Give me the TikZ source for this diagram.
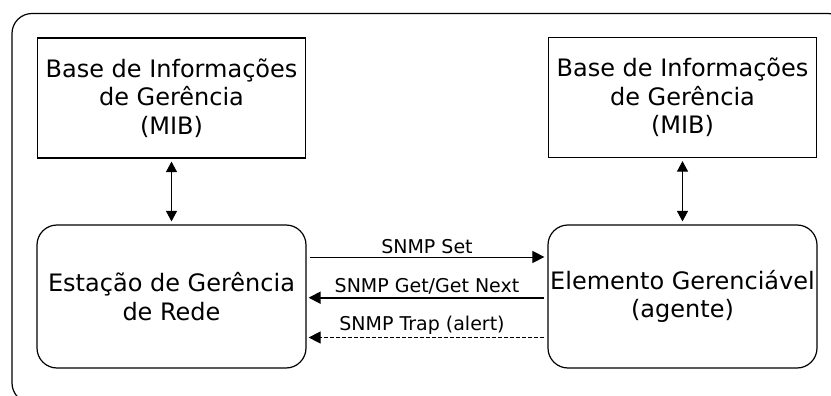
\documentclass[tikz,border=0pt]{standalone}
\usepackage{fontspec}
\setmainfont{DejaVu Sans}
\usetikzlibrary{arrows.meta}

\begin{document}
\begin{tikzpicture}[x=1pt,y=-1pt,
    >={Triangle[length=12pt,width=12pt]},
    mib/.style={rectangle, draw, line width=1.2pt, minimum width=268pt, minimum height=120pt,
      inner xsep=1pt, align=center, font=\fontsize{24}{28.5}\selectfont},
    ent/.style={rectangle, rounded corners=20pt, draw, line width=1.2pt, minimum width=269pt,
      minimum height=143pt, inner xsep=1pt, align=center, font=\fontsize{24}{28.5}\selectfont},
    msg/.style={midway, above, inner sep=2.5pt, font=\fontsize{19}{22}\selectfont}]
  \useasboundingbox (0,0) rectangle (831,396);
  \clip (0,0) rectangle (831,396);
  \draw[line width=1.2pt, rounded corners=20pt] (12,13.5) rectangle (848,403);

  \path (171.5,98) node[mib](mibL){Base de Informações\\de Gerência\\(MIB)}
        (682.5,97.5) node[mib](mibR){Base de Informações\\de Gerência\\(MIB)}
        (171.5,296.5) node[ent](nms){Estação de Gerência\\de Rede}
        (682.5,296.5) node[ent](agent){Elemento Gerenciável\\(agente)};

  \draw[<->, line width=1pt, shorten <=3pt, shorten >=3pt,
    >={Triangle[length=10.5pt,width=11pt]}](mibL) -- (nms);
  \draw[<->, line width=1pt, shorten <=3pt, shorten >=3pt,
    >={Triangle[length=10.5pt,width=11pt]}](mibR) -- (agent);
  \draw[->, line width=1pt, shorten <=3pt, shorten >=3pt]([yshift=39.5pt]nms.east) -- ([yshift=39.5pt]agent.west)
    node[msg]{SNMP Set};
  \draw[->, line width=1.8pt, shorten <=3pt, shorten >=2pt]([yshift=-1.2pt]agent.west) -- ([yshift=-1.2pt]nms.east)
    node[msg]{SNMP Get/Get Next};
  \draw[->, line width=1pt, dash pattern=on 4pt off 2pt, shorten <=3pt, shorten >=2pt]([yshift=-41pt]agent.west) -- ([yshift=-41pt]nms.east)
    node[msg, xshift=-5pt]{SNMP Trap (alert)};
\end{tikzpicture}
\end{document}
